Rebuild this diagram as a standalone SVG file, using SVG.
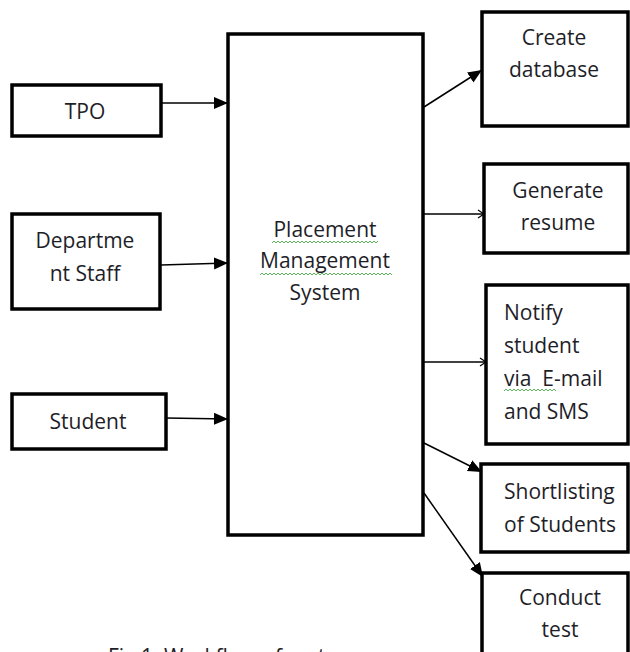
<svg xmlns="http://www.w3.org/2000/svg" width="630" height="652" viewBox="0 0 630 652">
  <defs>
    <style>
      .box { fill: #ffffff; stroke: #000000; stroke-width: 3.5; }
      .main { fill: #ffffff; stroke: #000000; stroke-width: 3.5; }
      .lbl { font-family: "Open Sans", "Liberation Sans", sans-serif; font-size: 21px; fill: #1e1e28; }
      .mid { text-anchor: middle; }
      .conn { stroke: #000000; stroke-width: 1.5; fill: none; }
      .sq { fill: url(#squiggle); }
    </style>
    <marker id="filled" markerUnits="userSpaceOnUse" markerWidth="14" markerHeight="14" viewBox="0 0 14 12" refX="14" refY="6" orient="auto">
      <path d="M0,0 L14,6 L0,12 Z" fill="#000000"/>
    </marker>
    <marker id="open" markerUnits="userSpaceOnUse" markerWidth="8" markerHeight="10" viewBox="0 0 8 10" refX="7" refY="5" orient="auto">
      <path d="M1,1 L7,5 L1,9" fill="none" stroke="#000000" stroke-width="1.2"/>
    </marker>
    <pattern id="squiggle" width="4" height="4" patternUnits="userSpaceOnUse">
      <path d="M0,3 L2,1 L4,3" fill="none" stroke="#5cb85c" stroke-width="1"/>
    </pattern>
  </defs>

  <g id="connectors">
    <line class="conn" x1="162" y1="103" x2="228" y2="103" marker-end="url(#filled)"/>
    <line class="conn" x1="161" y1="265" x2="228" y2="263" marker-end="url(#filled)"/>
    <line class="conn" x1="166" y1="418" x2="228" y2="419" marker-end="url(#filled)"/>
    <line class="conn" x1="424" y1="107" x2="482" y2="70" marker-end="url(#filled)"/>
    <line class="conn" x1="424" y1="214" x2="484" y2="214" marker-end="url(#open)"/>
    <line class="conn" x1="424" y1="362" x2="486" y2="362" marker-end="url(#open)"/>
    <line class="conn" x1="424" y1="443" x2="482" y2="472" marker-end="url(#filled)"/>
    <line class="conn" x1="424" y1="493" x2="483" y2="577" marker-end="url(#filled)"/>
  </g>

  <g id="node-tpo">
    <rect class="box" x="12" y="85" width="149" height="51"/>
    <text class="lbl mid" x="85" y="119">TPO</text>
  </g>

  <g id="node-department-staff">
    <rect class="box" x="12" y="214" width="148" height="95"/>
    <text class="lbl mid" x="85" y="248">Departme</text>
    <text class="lbl mid" x="85" y="281">nt Staff</text>
  </g>

  <g id="node-student">
    <rect class="box" x="12" y="394" width="154" height="55"/>
    <text class="lbl mid" x="88" y="429">Student</text>
  </g>

  <g id="node-placement-management-system">
    <rect class="main" x="228" y="34" width="195" height="501"/>
    <text class="lbl mid" x="325" y="237">Placement</text>
    <text class="lbl mid" x="325" y="268">Management</text>
    <text class="lbl mid" x="325" y="300">System</text>
    <rect class="sq" x="272" y="240" width="106" height="4"/>
    <rect class="sq" x="260" y="272" width="132" height="4"/>
  </g>

  <g id="node-create-database">
    <rect class="box" x="482" y="12" width="146" height="114"/>
    <text class="lbl mid" x="554" y="45">Create</text>
    <text class="lbl mid" x="554" y="77">database</text>
  </g>

  <g id="node-generate-resume">
    <rect class="box" x="484" y="164" width="144" height="89"/>
    <text class="lbl mid" x="558" y="198">Generate</text>
    <text class="lbl mid" x="558" y="230">resume</text>
  </g>

  <g id="node-notify-student">
    <rect class="box" x="486" y="285" width="142" height="159"/>
    <text class="lbl" x="504" y="320">Notify</text>
    <text class="lbl" x="504" y="353">student</text>
    <text class="lbl" x="504" y="386" xml:space="preserve">via  E-mail</text>
    <text class="lbl" x="504" y="419">and SMS</text>
    <rect class="sq" x="504" y="388" width="52" height="4"/>
  </g>

  <g id="node-shortlisting">
    <rect class="box" x="481" y="464" width="147" height="88"/>
    <text class="lbl" x="504" y="499">Shortlisting</text>
    <text class="lbl" x="504" y="532">of Students</text>
  </g>

  <g id="node-conduct-test">
    <rect class="box" x="482" y="573" width="146" height="100"/>
    <text class="lbl mid" x="560" y="605">Conduct</text>
    <text class="lbl mid" x="560" y="637">test</text>
  </g>

  <text class="lbl" x="108" y="664" fill="#000000">Fig 1: Workflow of system</text>
</svg>
